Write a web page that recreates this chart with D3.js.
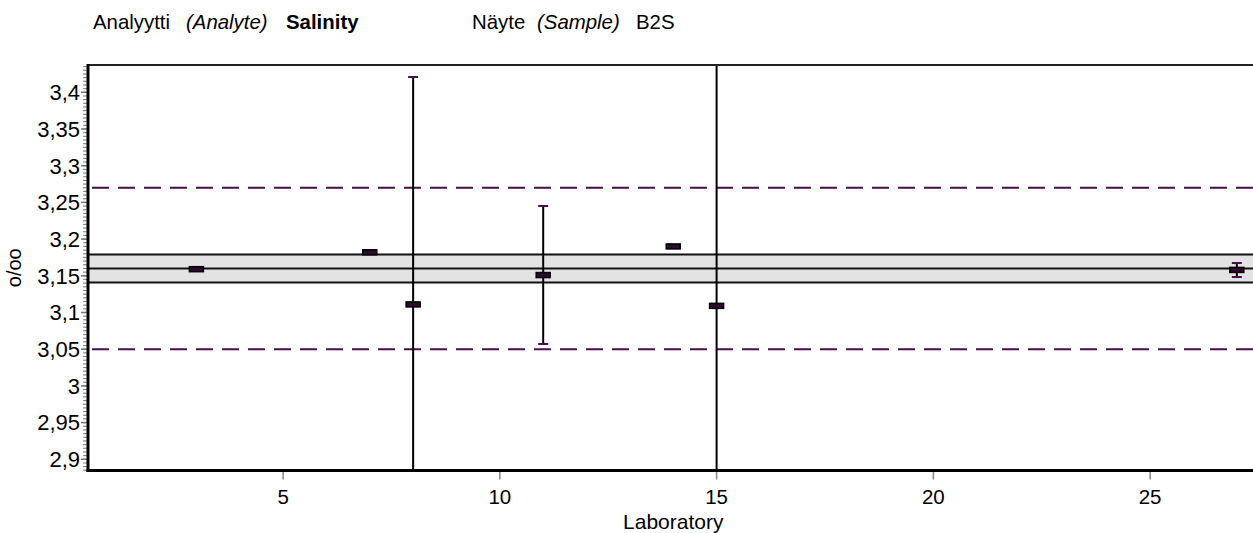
<!DOCTYPE html>
<html>
<head>
<meta charset="utf-8">
<script src="https://cdn.jsdelivr.net/npm/d3@7"></script>
<style>
  html, body { margin: 0; padding: 0; background: #fff; }
  svg { display: block; font-family: "Liberation Sans", Arial, sans-serif; }
</style>
</head>
<body>
<svg id="chart" width="1253" height="533"></svg>
<script>
// Laboratory results for salinity, sample B2S
const labs        = [3, 7, 8, 11, 14, 15, 27];
const results     = [3.159, 3.182, 3.111, 3.151, 3.190, 3.109, 3.158];
const uncertainty = [0, 0, 0.31, 0.094, 0, 0.6, 0.0095];

// Assigned value, its uncertainty band and the acceptance limits
const assignedValue = [3.160];
const assignedBand  = [3.141, 3.179];
const limits        = [3.050, 3.270];

const xTicks = [5, 10, 15, 20, 25];
const yTicks = [2.9, 2.95, 3.0, 3.05, 3.1, 3.15, 3.2, 3.25, 3.3, 3.35, 3.4];

const svg = d3.select("#chart");
const plotLeft = 88, plotTop = 65, plotBottom = 470.5, plotRight = 1258.5;

const x = d3.scaleLinear().domain([0.5, 27.5]).range([plotLeft, plotRight]);
const y = d3.scaleLinear().domain([2.8847, 3.4372]).range([plotBottom, plotTop]);

const purple = "#4a0f4a";

function label(parent, px, py, str, opts = {}) {
  const rot = opts.rotate ? ` rotate(${opts.rotate})` : "";
  const t = parent.append("text")
    .attr("transform", `translate(${px},${py})${rot}`)
    .attr("font-size", opts.size || 16)
    .attr("text-anchor", opts.anchor || "start")
    .attr("fill", "#000")
    .text(str);
  if (opts.dy) t.attr("dy", opts.dy);
  if (opts.weight) t.attr("font-weight", opts.weight);
  if (opts.style) t.attr("font-style", opts.style);
  return t;
}

// Header
const hs = 20.4, hy = 29;
label(svg, 93, hy, "Analyytti", { size: hs });
label(svg, 186, hy, "(Analyte)", { size: hs, style: "italic" });
label(svg, 286, hy, "Salinity", { size: hs, weight: "bold" });
label(svg, 472, hy, "Näyte", { size: hs });
label(svg, 537, hy, "(Sample)", { size: hs, style: "italic" });
label(svg, 636, hy, "B2S", { size: hs });

svg.append("clipPath").attr("id", "plotclip")
  .append("rect").attr("x", plotLeft).attr("y", plotTop)
  .attr("width", plotRight - plotLeft).attr("height", plotBottom - plotTop);

const plot = svg.append("g").attr("clip-path", "url(#plotclip)");

// Uncertainty band of the assigned value
plot.append("rect")
  .attr("x", plotLeft).attr("width", plotRight - plotLeft)
  .attr("y", y(assignedBand[1])).attr("height", y(assignedBand[0]) - y(assignedBand[1]))
  .attr("fill", "#e3e3e3");
[assignedBand[0], assignedValue[0], assignedBand[1]].forEach(v => {
  plot.append("line")
    .attr("x1", plotLeft).attr("x2", plotRight).attr("y1", y(v)).attr("y2", y(v))
    .attr("stroke", "#111").attr("stroke-width", 2);
});

// Acceptance limits
limits.forEach(v => {
  plot.append("line")
    .attr("x1", plotLeft + 4).attr("x2", plotRight).attr("y1", y(v)).attr("y2", y(v))
    .attr("stroke", purple).attr("stroke-width", 2)
    .attr("stroke-dasharray", "17,9");
});

// Error bars
const data = labs.map((lab, i) => ({ lab, value: results[i], u: uncertainty[i] }));
data.filter(d => d.u > 0).forEach(d => {
  const cx = x(d.lab);
  plot.append("line")
    .attr("x1", cx).attr("x2", cx).attr("y1", y(d.value + d.u)).attr("y2", y(d.value - d.u))
    .attr("stroke", "#000").attr("stroke-width", 2);
  [d.value + d.u, d.value - d.u].forEach(v => {
    plot.append("line")
      .attr("x1", cx - 5).attr("x2", cx + 5).attr("y1", y(v)).attr("y2", y(v))
      .attr("stroke", purple).attr("stroke-width", 2);
  });
});

// Result markers
plot.selectAll("rect.mark").data(data).join("rect")
  .attr("class", "mark")
  .attr("x", d => x(d.lab) - 7).attr("y", d => y(d.value) - 2.5)
  .attr("width", 14).attr("height", 5)
  .attr("fill", "#2e0a2e").attr("stroke", "#000").attr("stroke-width", 1.5);

// Top frame line
svg.append("line")
  .attr("x1", plotLeft).attr("x2", 1253).attr("y1", plotTop).attr("y2", plotTop)
  .attr("stroke", "#222").attr("stroke-width", 2);

// Y axis
const fmt = v => d3.format("~g")(+v.toFixed(3)).replace(".", ",");
const yMinor = d3.range(0, 111).map(i => +(2.885 + i * 0.005).toFixed(3)).filter(v => v <= 3.435);
const yAxisG = svg.append("g");
yAxisG.selectAll("line.minor").data(yMinor).join("line")
  .attr("class", "minor")
  .attr("x1", plotLeft - 5).attr("x2", plotLeft).attr("y1", d => y(d)).attr("y2", d => y(d))
  .attr("stroke", "#888").attr("stroke-width", 1.2);
yAxisG.selectAll("line.major").data(yTicks).join("line")
  .attr("class", "major")
  .attr("x1", plotLeft - 7).attr("x2", plotLeft).attr("y1", d => y(d)).attr("y2", d => y(d))
  .attr("stroke", "#777").attr("stroke-width", 1.5);
yTicks.forEach(v => label(yAxisG, plotLeft - 8, y(v), fmt(v), { size: 22, anchor: "end", dy: "0.36em" }));
svg.append("line")
  .attr("x1", plotLeft).attr("x2", plotLeft).attr("y1", plotTop - 1).attr("y2", plotBottom + 1.5)
  .attr("stroke", "#000").attr("stroke-width", 3);

// X axis
const xAxisG = svg.append("g");
xAxisG.selectAll("line").data(xTicks).join("line")
  .attr("x1", d => x(d)).attr("x2", d => x(d)).attr("y1", plotBottom).attr("y2", plotBottom + 9)
  .attr("stroke", "#888").attr("stroke-width", 1.5);
xTicks.forEach(v => label(xAxisG, x(v), 504, String(v), { size: 20.5, anchor: "middle" }));
svg.append("line")
  .attr("x1", plotLeft - 1.5).attr("x2", 1253).attr("y1", plotBottom).attr("y2", plotBottom)
  .attr("stroke", "#000").attr("stroke-width", 3);

// Axis titles, centred on the plot area
label(svg, (plotLeft + plotRight) / 2, 529, "Laboratory", { size: 21, anchor: "middle" });
label(svg, 21, (plotTop + plotBottom) / 2, "o/oo", { size: 20, anchor: "middle", rotate: -90 });
</script>
</body>
</html>
